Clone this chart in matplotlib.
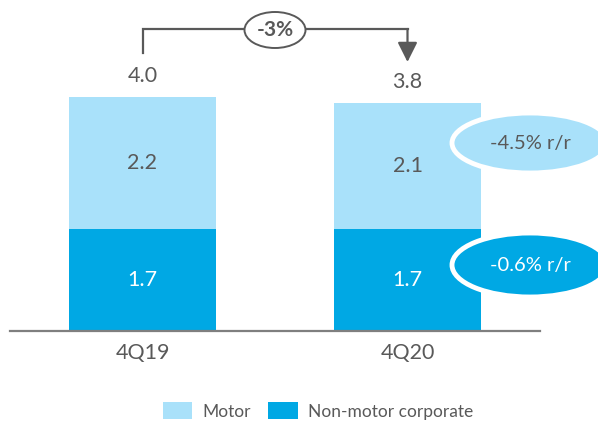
import matplotlib
matplotlib.use("Agg")
import matplotlib.pyplot as plt
from matplotlib.patches import Ellipse, Patch, FancyArrowPatch

plt.rcParams['font.family'] = ['Lato', 'DejaVu Sans']

categories = ["4Q19", "4Q20"]
non_motor = [1.7, 1.7]
motor = [2.2, 2.1]
totals = [4.0, 3.8]
change_label = "-3%"
motor_change = "-4.5% r/r"
nonmotor_change = "-0.6% r/r"
series_names = ["Motor", "Non-motor corporate"]

LIGHT = "#A9E1FA"
DARK = "#00A8E4"
TEXT = "#595959"

W, H = 598, 422
fig = plt.figure(figsize=(W / 100, H / 100), dpi=100)
ax = fig.add_axes([10 / W, 91 / H, 530 / W, 331 / H])
ax.set_xlim(-0.5, 1.5)
ax.set_ylim(0, 331 / 60)

x = list(range(len(categories)))
bw = 0.555
ax.bar(x, non_motor, width=bw, color=DARK, zorder=2)
ax.bar(x, motor, width=bw, bottom=non_motor, color=LIGHT, zorder=2)

FS = 15.5
for i in x:
    ax.text(i, non_motor[i] / 2, f"{non_motor[i]:.1f}", ha="center", va="center",
            color="white", fontsize=FS)
    ax.text(i, non_motor[i] + motor[i] / 2, f"{motor[i]:.1f}", ha="center", va="center",
            color=TEXT, fontsize=FS)
    ax.annotate(f"{totals[i]:.1f}", (i, non_motor[i] + motor[i]), xytext=(0, 15),
                textcoords="offset points", ha="center", va="center",
                color=TEXT, fontsize=FS)

for s in ["top", "right", "left"]:
    ax.spines[s].set_visible(False)
ax.spines["bottom"].set_color("#7F7F7F")
ax.spines["bottom"].set_linewidth(1.6)
ax.set_yticks([])
ax.set_xticks(x)
ax.set_xticklabels(categories, color=TEXT, fontsize=FS)
ax.tick_params(axis="x", length=0, pad=9)

# bracket
ytop = (331 - 29) / 60
yl = (331 - 53) / 60
ytip = (331 - 62) / 60
ax.plot([0, 0, 1], [yl, ytop, ytop], color="#595959", lw=1.6, clip_on=False,
        solid_joinstyle="miter", zorder=3)
arr = FancyArrowPatch((1, ytop), (1, ytip), arrowstyle="-|>,head_length=12,head_width=6",
                      mutation_scale=1, color="#595959", lw=1.6, shrinkA=0, shrinkB=0,
                      clip_on=False, zorder=3)
ax.add_patch(arr)
cx = (275 - 10) / 265 - 0.5
cy = (331 - 30) / 60
ax.add_patch(Ellipse((cx, cy), 61 / 265, 36 / 60, facecolor="white", edgecolor="#595959",
                     lw=1.4, clip_on=False, zorder=4))
ax.text(cx, cy, change_label, ha="center", va="center", fontsize=15, fontweight="bold",
        color="#595959", zorder=5)

# change ellipses
ex = (530 - 10) / 265 - 0.5
e1y = (331 - 143) / 60
e2y = (331 - 265) / 60
ax.add_patch(Ellipse((ex, e1y), 156 / 265, 60 / 60, facecolor=LIGHT, edgecolor="white",
                     lw=3.5, clip_on=False, zorder=4))
ax.text(ex, e1y, motor_change, ha="center", va="center", fontsize=14.5, color=TEXT, zorder=5)
ax.add_patch(Ellipse((ex, e2y), 156 / 265, 64 / 60, facecolor=DARK, edgecolor="white",
                     lw=3.5, clip_on=False, zorder=4))
ax.text(ex, e2y, nonmotor_change, ha="center", va="center", fontsize=14.5, color="white", zorder=5)

handles = [Patch(facecolor=LIGHT), Patch(facecolor=DARK)]
fig.legend(handles, series_names, loc="center", bbox_to_anchor=(318 / W, 1 - 411 / H),
           ncol=2, frameon=False, fontsize=12.5, handlelength=1.7, handleheight=1.1,
           handletextpad=0.6, columnspacing=1.0, labelcolor=TEXT)

fig.savefig("out.png", dpi=100)
